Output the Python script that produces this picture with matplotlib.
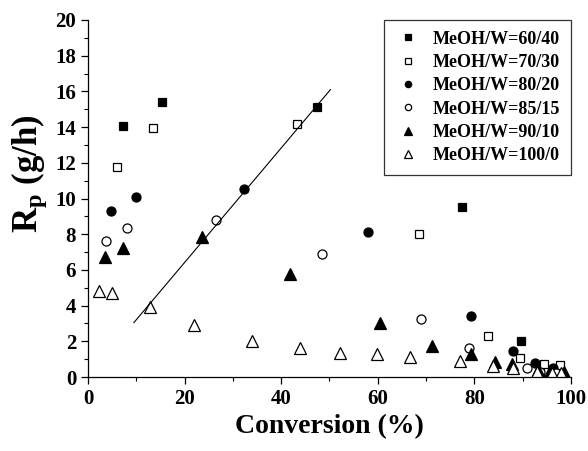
import matplotlib
matplotlib.use("Agg")
import matplotlib.pyplot as plt
from matplotlib.ticker import MultipleLocator

plt.rcParams['font.family'] = ['Liberation Serif', 'DejaVu Serif']
plt.rcParams['font.weight'] = 'bold'
plt.rcParams['mathtext.fontset'] = 'custom'
plt.rcParams['mathtext.rm'] = 'Liberation Serif:bold'
plt.rcParams['mathtext.bf'] = 'Liberation Serif:bold'
plt.rcParams['mathtext.it'] = 'Liberation Serif:bold'

# Data (Conversion %, Rp g/h)
x_6040 = [7.2, 15.3, 47.4, 77.5, 89.7, 93.5, 97.5]
y_6040 = [14.05, 15.4, 15.1, 9.55, 2.0, 0.7, 0.4]

x_7030 = [6.0, 13.4, 43.3, 68.5, 82.8, 89.4, 94.4, 97.8]
y_7030 = [11.75, 13.95, 14.2, 8.0, 2.3, 1.05, 0.75, 0.7]

x_8020 = [4.7, 9.9, 32.2, 58.0, 79.3, 87.9, 92.5, 96.3]
y_8020 = [9.3, 10.1, 10.55, 8.15, 3.4, 1.45, 0.8, 0.5]

x_8515 = [3.7, 8.1, 26.6, 48.4, 69.0, 78.9, 91.0, 93.5, 97.0]
y_8515 = [7.6, 8.35, 8.8, 6.9, 3.25, 1.6, 0.5, 0.3, 0.25]

x_9010 = [3.5, 7.25, 23.7, 41.8, 60.5, 71.3, 79.3, 84.3, 87.7, 93.2, 95.7, 98.5]
y_9010 = [6.7, 7.25, 7.85, 5.75, 3.0, 1.75, 1.3, 0.85, 0.75, 0.4, 0.35, 0.3]

x_1000 = [2.3, 4.9, 12.8, 21.9, 34.0, 43.9, 52.2, 59.8, 66.7, 77.0, 83.9, 87.9, 93.0, 96.0, 98.0]
y_1000 = [4.8, 4.7, 3.9, 2.9, 2.0, 1.6, 1.35, 1.27, 1.15, 0.9, 0.6, 0.5, 0.3, 0.25, 0.2]

x_fit = [9.5, 50.2]
y_fit = [3.05, 16.1]

labels = ['MeOH/W=60/40', 'MeOH/W=70/30', 'MeOH/W=80/20',
          'MeOH/W=85/15', 'MeOH/W=90/10', 'MeOH/W=100/0']

fig = plt.figure(figsize=(5.88, 4.51), dpi=100)
ax = fig.add_axes([0.1497, 0.164, 0.8213, 0.7917])

kw = dict(linestyle='none', color='black', markeredgewidth=0.9)
ax.plot(x_6040, y_6040, marker='s', markersize=6, markerfacecolor='black', label=labels[0], **kw)
ax.plot(x_7030, y_7030, marker='s', markersize=6, markerfacecolor='white', label=labels[1], **kw)
ax.plot(x_8020, y_8020, marker='o', markersize=6.5, markerfacecolor='black', label=labels[2], **kw)
ax.plot(x_8515, y_8515, marker='o', markersize=6.5, markerfacecolor='white', label=labels[3], **kw)
ax.plot(x_9010, y_9010, marker='^', markersize=8, markerfacecolor='black', label=labels[4], **kw)
ax.plot(x_1000, y_1000, marker='^', markersize=8, markerfacecolor='white', label=labels[5], **kw)
ax.plot(x_fit, y_fit, color='black', linewidth=0.8)

ax.set_xlim(0, 100)
ax.set_ylim(0, 20)
ax.xaxis.set_major_locator(MultipleLocator(20))
ax.xaxis.set_minor_locator(MultipleLocator(10))
ax.yaxis.set_major_locator(MultipleLocator(2))
ax.yaxis.set_minor_locator(MultipleLocator(1))
ax.spines['top'].set_visible(False)
ax.spines['right'].set_visible(False)
for s in ['left', 'bottom']:
    ax.spines[s].set_linewidth(0.9)
ax.tick_params(which='major', direction='out', length=5, width=0.9, labelsize=15)
ax.tick_params(which='minor', direction='out', length=3, width=0.8)
for lab in ax.get_xticklabels() + ax.get_yticklabels():
    lab.set_fontweight('bold')

ax.set_xlabel('Conversion (%)', fontsize=20, fontweight='bold', labelpad=4)
ax.set_ylabel(r'R$_{\mathregular{p}}$ (g/h)', fontsize=25, fontweight='bold')
ax.yaxis.set_label_coords(-0.08, 0.57)

leg = ax.legend(loc='upper right', borderaxespad=0, frameon=True, fancybox=False,
                edgecolor='black', fontsize=13, markerscale=0.7, handletextpad=0.6,
                labelspacing=0.35, borderpad=0.6, handlelength=1.5)
leg.get_frame().set_linewidth(0.9)
for t in leg.get_texts():
    t.set_fontweight('bold')

fig.savefig('out.png', dpi=100)
